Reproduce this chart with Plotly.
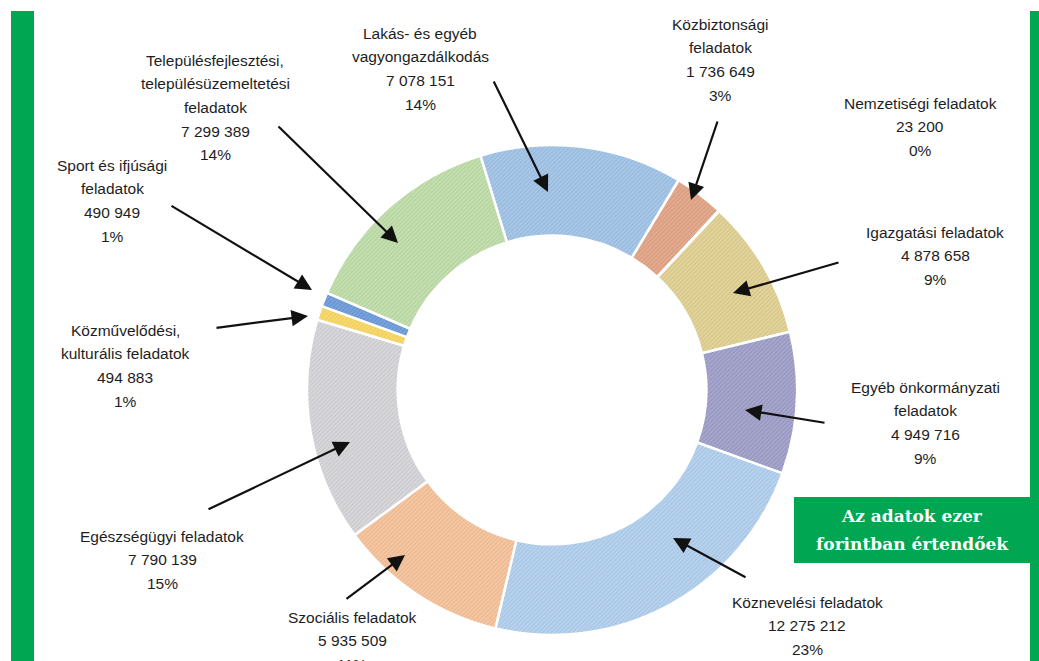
import plotly.graph_objects as go

# ---- data ----
categories = [
    "Lakás- és egyéb vagyongazdálkodás",
    "Közbiztonsági feladatok",
    "Nemzetiségi feladatok",
    "Igazgatási feladatok",
    "Egyéb önkormányzati feladatok",
    "Köznevelési feladatok",
    "Szociális feladatok",
    "Egészségügyi feladatok",
    "Közművelődési, kulturális feladatok",
    "Sport és ifjúsági feladatok",
    "Településfejlesztési, településüzemeltetési feladatok",
]
values = [7078151, 1736649, 23200, 4878658, 4949716, 12275212,
          5935509, 7790139, 494883, 490949, 7299389]
value_labels = ["7 078 151", "1 736 649", "23 200", "4 878 658", "4 949 716",
                "12 275 212", "5 935 509", "7 790 139", "494 883", "490 949",
                "7 299 389"]
pct_labels = ["14%", "3%", "0%", "9%", "9%", "23%", "11%", "15%", "1%", "1%", "14%"]
name_lines = [
    ["Lakás- és egyéb", "vagyongazdálkodás"],
    ["Közbiztonsági", "feladatok"],
    ["Nemzetiségi feladatok"],
    ["Igazgatási feladatok"],
    ["Egyéb önkormányzati", "feladatok"],
    ["Köznevelési feladatok"],
    ["Szociális feladatok"],
    ["Egészségügyi feladatok"],
    ["Közművelődési,", "kulturális feladatok"],
    ["Sport és ifjúsági", "feladatok"],
    ["Településfejlesztési,", "településüzemeltetési", "feladatok"],
]
colors = ["#aac8e6", "#e3ab8f", "#c9c9c9", "#e2d49c", "#a8a7cc", "#b9d3ed",
          "#f4c8a4", "#d9d9dc", "#f6d970", "#7aa4dc", "#c6dfb2"]
pattern_fg = ["#92b7dd", "#d7997d", "#b5b5b5", "#d3c384", "#9291bd", "#a2c3e5",
              "#ecb48c", "#c6c6cb", "#efcd58", "#6590d0", "#afd199"]

# ---- layout helpers (pixel positions in the 1039x661 window) ----
W, H = 1039, 661
label_pos = [(420, 33), (720, 24), (920, 103), (935, 232), (925, 387), (807, 602),
             (352, 617), (162, 536), (125, 330), (112, 165), (215, 60)]
line_gap = 23.7
arrows = [((493, 80), (548, 192)), ((718, 120), (691, 200)), None,
          ((840, 262), (733, 293)), ((826, 423), (745, 410)),
          ((747, 578), (673, 538)), ((345, 600), (405, 555)),
          ((207, 510), (350, 442)), ((215, 328), (308, 316)),
          ((170, 205), (312, 290)), ((277, 125), (398, 243))]

cx, cy, R = 552, 390, 245
EXTRA = 14  # figure extends a bit below the window so the cut-off label shows partially
FH = H + EXTRA

fig = go.Figure()
fig.add_trace(go.Pie(
    labels=categories, values=values, sort=False, direction="clockwise",
    rotation=-17, hole=0.63, textinfo="none", hoverinfo="label+value+percent",
    marker=dict(colors=colors, line=dict(color="white", width=2.5),
                pattern=dict(shape="/", fgcolor=pattern_fg, bgcolor=colors,
                             size=3, solidity=0.35)),
    domain=dict(x=[(cx - R) / W, (cx + R) / W],
                y=[1 - (cy + R) / FH, 1 - (cy - R) / FH]),
    showlegend=False,
))

# invisible pixel-coordinate axes for annotations/shapes
fig.update_xaxes(range=[0, W], visible=False, domain=[0, 1], fixedrange=True)
fig.update_yaxes(range=[FH, 0], visible=False, domain=[0, 1], fixedrange=True)
fig.add_trace(go.Scatter(x=[1], y=[1], mode="markers", marker=dict(opacity=0),
                         showlegend=False, hoverinfo="skip"))

annotations = []
for i, (lx, ly) in enumerate(label_pos):
    lines = name_lines[i] + [value_labels[i], pct_labels[i]]
    for j, t in enumerate(lines):
        annotations.append(dict(x=lx, y=ly + j * line_gap, xref="x", yref="y",
                                text=t, showarrow=False, xanchor="center",
                                yanchor="middle",
                                font=dict(family="Liberation Sans", size=15.5,
                                          color="#1e1e1e")))
for a in arrows:
    if a is None:
        continue
    (tx, ty), (hx, hy) = a
    annotations.append(dict(x=hx, y=hy, ax=tx, ay=ty, xref="x", yref="y",
                            axref="x", ayref="y", text="", showarrow=True,
                            arrowhead=2, arrowsize=1.5, arrowwidth=2.2,
                            arrowcolor="#111111"))

for j, t in enumerate(["Az adatok ezer", "forintban értendőek"]):
    annotations.append(dict(x=912, y=516 + j * 28, xref="x", yref="y",
                            text="<b>" + t + "</b>",
                            showarrow=False, xanchor="center", yanchor="middle",
                            font=dict(family="DejaVu Serif", size=17, color="white")))

green = "#00a651"
shapes = [
    dict(type="rect", xref="paper", yref="y", x0=11 / W, x1=34 / W, y0=11, y1=FH,
         fillcolor=green, line=dict(width=0), layer="below"),
    dict(type="rect", xref="paper", yref="y", x0=1030 / W, x1=1.0, y0=11, y1=FH,
         fillcolor=green, line=dict(width=0), layer="below"),
    dict(type="rect", xref="x", yref="y", x0=794, x1=1030, y0=497, y1=563, fillcolor=green,
         line=dict(width=0), layer="below"),
]

fig.update_layout(width=W, height=FH, margin=dict(l=0, r=0, t=0, b=0),
                  paper_bgcolor="white", plot_bgcolor="rgba(0,0,0,0)",
                  annotations=annotations, shapes=shapes)

fig.write_html(
    "out.html",
    config={"displayModeBar": False},
    post_script="document.body.style.margin='0';document.body.style.overflow='hidden';"
                "document.documentElement.style.overflow='hidden';",
)
